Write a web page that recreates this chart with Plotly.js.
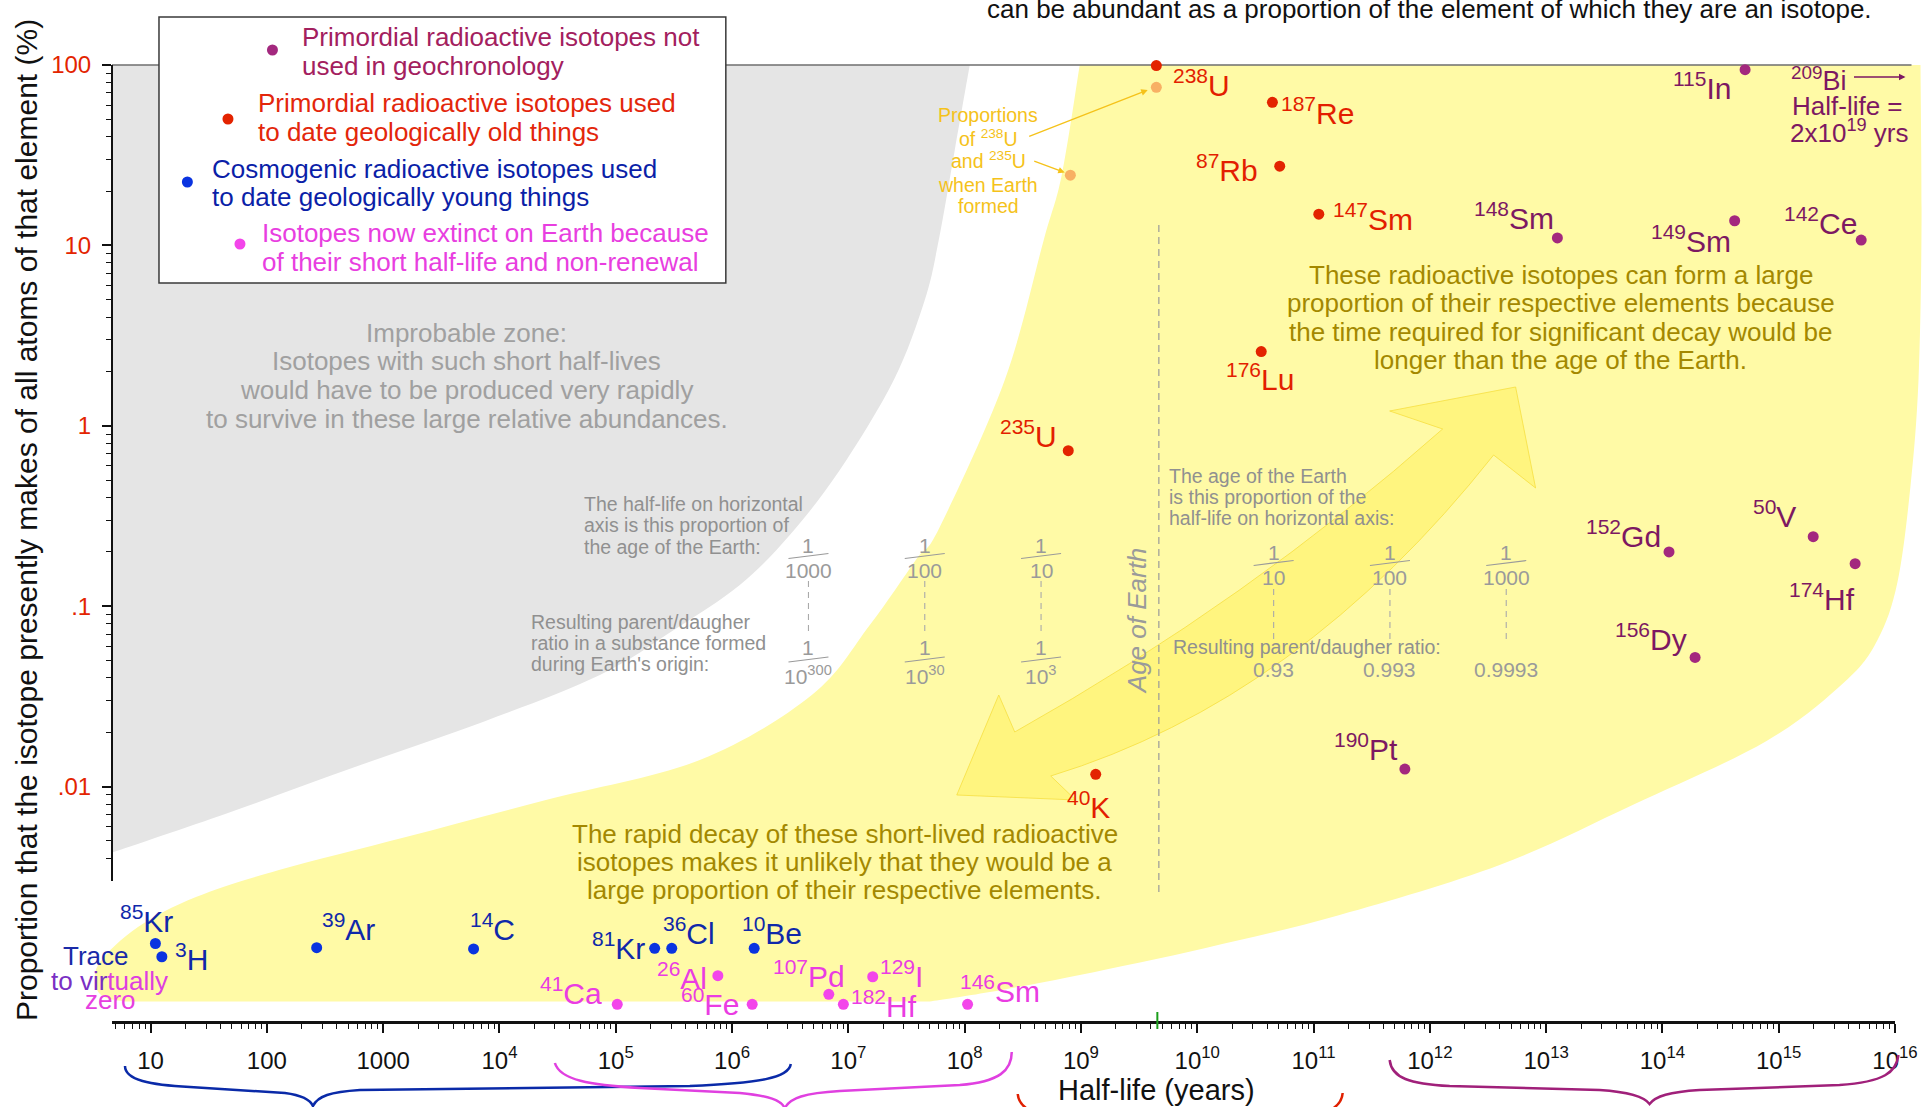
<!DOCTYPE html>
<html>
<head>
<meta charset="utf-8">
<script src="https://cdn.plot.ly/plotly-3.0.1.min.js"></script>
<style>
html,body{margin:0;padding:0;background:#ffffff;overflow:hidden;}
#chart{width:1923px;height:1107px;}
</style>
</head>
<body>
<div id="chart"></div>
<script>
// ---------------- DATA ----------------
const ageOfEarth = 4.54e9; // years

// Primordial radioactive isotopes not used in geochronology
const notUsedNames     = ['115In','148Sm','149Sm','142Ce','152Gd','156Dy','50V','174Hf','190Pt'];
const notUsedHalfLife  = [5.14e14, 1.25e13, 4.18e14, 5.12e15, 1.14e14, 1.91e14, 1.98e15, 4.54e15, 6.1e11];
const notUsedAbundance = [94.2, 11.0, 13.7, 10.7, 0.20, 0.052, 0.243, 0.172, 0.0125];

// Primordial radioactive isotopes used to date geologically old things
const oldNames     = ['238U','187Re','87Rb','147Sm','176Lu','235U','40K'];
const oldHalfLife  = [4.45e9, 4.43e10, 5.12e10, 1.11e11, 3.55e10, 7.78e8, 1.34e9];
const oldAbundance = [99.3, 62.1, 27.5, 14.9, 2.58, 0.728, 0.0117];

// Proportions of 238U and 235U when Earth formed
const initialNames     = ['238U','235U'];
const initialHalfLife  = [4.45e9, 8.11e8];
const initialAbundance = [75.2, 24.5];

// Cosmogenic radioactive isotopes (trace amounts)
const youngNames     = ['85Kr','3H','39Ar','14C','81Kr','36Cl','10Be'];
const youngHalfLife  = [11.0, 12.5, 268, 5990, 2.16e5, 3.03e5, 1.55e6];
const youngAbundance = [0.00135, 0.00114, 0.00128, 0.00126, 0.00127, 0.00127, 0.00127];

// Isotopes now extinct on Earth (virtually zero)
const extinctNames     = ['41Ca','26Al','60Fe','107Pd','182Hf','129I','146Sm'];
const extinctHalfLife  = [1.03e5, 7.55e5, 1.49e6, 6.79e6, 9.06e6, 1.62e7, 1.06e8];
const extinctAbundance = [0.000621, 0.000895, 0.000621, 0.000706, 0.000621, 0.000883, 0.000621];

// Tick labels
const xTickVals = [1e1,1e2,1e3,1e4,1e5,1e6,1e7,1e8,1e9,1e10,1e11,1e12,1e13,1e14,1e15,1e16];
const xTickText = ['10','100','1000','10<sup>4</sup>','10<sup>5</sup>','10<sup>6</sup>','10<sup>7</sup>','10<sup>8</sup>',
                   '10<sup>9</sup>','10<sup>10</sup>','10<sup>11</sup>','10<sup>12</sup>','10<sup>13</sup>','10<sup>14</sup>',
                   '10<sup>15</sup>','10<sup>16</sup>'];
const yTickVals = [0.01, 0.1, 1, 10, 100];
const yTickText = ['.01', '.1', '1', '10', '100'];

// Half-life as a fraction / multiple of the age of the Earth
const fractionFactors = [1/1000, 1/100, 1/10, 10, 100, 1000];
const leftDenoms   = ['1000', '100', '10'];
const lowerDenoms  = ['10<sup>300</sup>', '10<sup>30</sup>', '10<sup>3</sup>'];
const rightDenoms  = ['10', '100', '1000'];
const ratioValues  = ['0.93', '0.993', '0.9993'];

const legendLines = [
  ['Primordial radioactive isotopes not', 'used in geochronology'],
  ['Primordial radioactive isotopes used', 'to date geologically old things'],
  ['Cosmogenic radioactive isotopes used', 'to date geologically young things'],
  ['Isotopes now extinct on Earth because', 'of their short half-life and non-renewal']
];

// ---------------- STYLE / GEOMETRY ----------------
const W = 1923, H = 1107, L = 112, R = 1895.5, T = 65, B = 1021;
const XR = [0.6682, 16], YR = [-3.2993, 2];
const FONT = '"Liberation Sans", Arial, Helvetica, sans-serif';

const C = {
  red: '#e32300', redText: '#e31e00',
  purple: '#a3287e', purpleText: '#7d1862', legendPurple: '#a3205e',
  blue: '#0a33e0', blueText: '#0f28aa',
  magenta: '#f345ea', magentaText: '#ea3ce2',
  orange: '#f8b064', orangeText: '#f5c21a',
  gold: '#a38800', gray: '#a0a0a0', gray2: '#909090'
};

const labelPlace = { // [dx, dy (screen px, + = down), xanchor]
  '238U':[15,17.4,'left'], '187Re':[6.7,8.4,'left'], '87Rb':[-20,1.4,'right'], '147Sm':[12.3,3.1,'left'],
  '176Lu':[-1.6,25.7,'center'], '235U':[-9.6,-16.7,'right'], '40K':[-6.9,30.4,'center'],
  '115In':[-10.6,16,'right'], '148Sm':[-1.7,-22,'right'], '149Sm':[-1.2,18.4,'right'], '142Ce':[-1.7,-19.3,'right'],
  '152Gd':[-6.3,-17.7,'right'], '156Dy':[-5.7,-20.9,'right'], '50V':[-15.7,-22.8,'right'], '174Hf':[2.3,32.8,'right'],
  '190Pt':[-5.3,-21.9,'right'],
  '85Kr':[-8.5,-24.9,'center'], '3H':[11.1,0,'left'], '39Ar':[3.2,-20.3,'left'], '14C':[-5.1,-21.6,'left'],
  '81Kr':[-7.8,-2.6,'right'], '36Cl':[-11,-17.6,'left'], '10Be':[-14.3,-17.6,'left'],
  '41Ca':[-13.2,-13.6,'right'], '26Al':[-9,0,'right'], '60Fe':[-11.4,-1.9,'right'], '107Pd':[18.5,-20.3,'right'],
  '182Hf':[5.4,0,'left'], '129I':[5,-2.7,'left'], '146Sm':[-10,-15.3,'left']
};

// ---------------- helpers ----------------
const px = x => (x - L) / (R - L);
const py = y => (B - y) / (B - T);
const xPix = v => L + (Math.log10(v) - XR[0]) / (XR[1] - XR[0]) * (R - L);
const f5 = n => (+n).toFixed(5);
const P = p => f5(px(p[0])) + ',' + f5(py(p[1]));
const pth = (...parts) => parts.map(p => Array.isArray(p) ? P(p) : p).join(' ');
function smooth(pts) {
  let s = '';
  for (let i = 0; i < pts.length - 1; i++) {
    const p0 = pts[Math.max(i - 1, 0)], p1 = pts[i], p2 = pts[i + 1], p3 = pts[Math.min(i + 2, pts.length - 1)];
    const c1 = [p1[0] + (p2[0] - p0[0]) / 6, p1[1] + (p2[1] - p0[1]) / 6];
    const c2 = [p2[0] - (p3[0] - p1[0]) / 6, p2[1] - (p3[1] - p1[1]) / 6];
    s += ' C ' + P(c1) + ' ' + P(c2) + ' ' + P(p2);
  }
  return s;
}

const ann = [];
const shapes = [];
function Tx(text, x, y, size, color, o) {
  ann.push(Object.assign({xref:'paper', yref:'paper', x: px(x), y: py(y), text: text, showarrow: false,
    xanchor: 'center', yanchor: 'middle', font: {family: FONT, size: size, color: color}}, o || {}));
}
function lines(arr, x, y0, sp, size, color, o) { arr.forEach((s, i) => Tx(s, x, y0 + i * sp, size, color, o)); }
function arrowAnn(hx, hy, tx, ty, color, w) {
  ann.push({xref:'paper', yref:'paper', x: px(hx), y: py(hy), ax: tx - hx, ay: ty - hy, axref:'pixel', ayref:'pixel',
    text:'', showarrow:true, arrowhead:2, arrowsize:1, arrowwidth:w, arrowcolor:color, standoff:0, startstandoff:0});
}
function lineShape(x0, y0, x1, y1, color, w, dash, layer) {
  shapes.push({type:'line', xref:'paper', yref:'paper', x0:px(x0), y0:py(y0), x1:px(x1), y1:py(y1),
    line:{color:color, width:w, dash:dash || 'solid'}, layer: layer || 'above'});
}
function pathShape(path, fill, lineColor, lw, layer) {
  shapes.push({type:'path', xref:'paper', yref:'paper', path:path, fillcolor: fill || 'rgba(0,0,0,0)',
    line:{color: lineColor || 'rgba(0,0,0,0)', width: lw || 0}, layer: layer || 'below'});
}
function dotShape(x, y, color, r) {
  shapes.push({type:'circle', xref:'paper', yref:'paper', xsizemode:'pixel', ysizemode:'pixel',
    xanchor:px(x), yanchor:py(y), x0:-r, x1:r, y0:-r, y1:r, fillcolor:color, line:{width:0}, layer:'above'});
}

// ---------------- background regions ----------------
const grayEdge = [[970,65],[955,150],[939,240],[925,300],[894,380],[840,470],[790,535],[740,585],[674,630],
                  [600,675],[483,722],[355,767],[228,813],[111,853]];
pathShape('M ' + P([111,65]) + ' L ' + P(grayEdge[0]) + smooth(grayEdge) + ' Z', '#e5e5e5');

const yRight = [[1921,65],[1922,230],[1919,380],[1911,486],[1898,582],[1878,640],[1845,682],[1767,741],[1633,805],
                [1500,865],[1340,915],[1206,948],[1080,975],[990,992],[930,1001.5]];
const yLeft = [[125,1001.5],[104,997],[96,985],[100,962],[138,927],[196,897],[279,870],[406,837],[546,800],[700,760],
               [812,695],[870,625],[916,560],[940,527],[1005,380],[1044,240],[1062,175],[1080,65]];
pathShape('M ' + P([1080,65]) + ' L ' + P([1921,65]) + smooth(yRight) + ' L ' + P(yLeft[0]) + smooth(yLeft) + ' Z', '#fffaa6');

// big double-headed arrow
pathShape(pth('M',[957,795],'L',[999,695],'L',[1015,732],'Q',[1250,600],[1443,429],'L',[1390,411],'L',[1516,387],
  'L',[1536,488],'L',[1494,455],'Q',[1300,700],[1051,776],'L',[1076,800],'Z'),
  'rgba(255,240,95,0.55)', 'rgba(245,222,60,0.75)', 1);

// 100% line at the top
lineShape(112, 65, 1912, 65, '#6e6e6e', 1.5, 'solid', 'below');
// y axis line (only over the measurable range)
shapes.push({type:'line', xref:'paper', yref:'paper', x0:0, x1:0,
  y0:(Math.log10(0.003) - YR[0]) / (YR[1] - YR[0]), y1:1, line:{color:'#111', width:2}, layer:'above'});

// Age of the Earth marker line and green tick
const xAge = xPix(ageOfEarth);
lineShape(xAge + 1.5, 225, xAge + 1.5, 897, '#9a9a9a', 1.2, '7px,5px', 'below');
lineShape(xAge, 1012, xAge, 1029, '#1b9e1b', 2, 'solid', 'above');

// ---------------- legend box ----------------
shapes.push({type:'rect', xref:'paper', yref:'paper', x0:px(159), x1:px(726), y0:py(17), y1:py(283),
  fillcolor:'#ffffff', line:{color:'#3a3a3a', width:1.5}, layer:'above'});
dotShape(272.5, 50, C.purple, 5.5);
dotShape(228, 119, C.red, 5.5);
dotShape(187.4, 182, C.blue, 5.5);
dotShape(240, 244, C.magenta, 5.5);
lines(legendLines[0], 300, 36.5, 30, 26, C.legendPurple, {xanchor:'left'});
lines(legendLines[1], 256, 103, 29, 26, '#e3260b', {xanchor:'left'});
lines(legendLines[2], 210, 169, 28.5, 26, '#0b1fa8', {xanchor:'left'});
lines(legendLines[3], 260, 233, 29, 26, '#e83ee0', {xanchor:'left'});

// ---------------- braces below the axis ----------------
pathShape(pth('M',[125,1066],'C',[125,1080],[150,1085],[190,1087],'L',[285,1093],'C',[300,1095],[310,1099],[313,1106],
  'C',[318,1096],[330,1092],[360,1090],'L',[690,1086],'C',[760,1083],[789,1078],[791,1064]), null, '#0a2aa8', 2.5, 'above');
pathShape(pth('M',[555,1063],'C',[560,1080],[590,1085],[640,1088],'L',[740,1093],'C',[770,1096],[781,1100],[785,1108],
  'C',[790,1098],[805,1093],[840,1091],'L',[960,1085],'C',[1000,1082],[1012,1070],[1012,1052]), null, '#e040e0', 2.5, 'above');
pathShape(pth('M',[1018,1094],'C',[1019,1106],[1030,1115],[1060,1118],'L',[1300,1118],'C',[1330,1115],[1342,1106],[1343,1093]),
  null, '#e02000', 2.5, 'above');
pathShape(pth('M',[1390,1060],'C',[1392,1078],[1410,1084],[1450,1086],'L',[1600,1090],'C',[1630,1092],[1645,1097],[1650,1104],
  'C',[1656,1096],[1670,1092],[1700,1090],'L',[1840,1085],'C',[1885,1082],[1897,1072],[1899,1055]), null, '#a0207a', 2.5, 'above');

// ---------------- fractions of the age of the Earth ----------------
const G = '#9a9a9a';
function bar(cx, y) { lineShape(cx - 20, y + 2.5, cx + 20, y - 2.5, G, 1.2, 'solid', 'above'); }
fractionFactors.forEach((f, i) => {
  const cx = xPix(ageOfEarth * f);
  if (i < 3) {
    Tx('1', cx, 545, 21, G); bar(cx, 556); Tx(leftDenoms[i], cx, 570, 21, G);
    lineShape(cx, 581, cx, 633, '#aaaaaa', 1.1, '6px,5px', 'above');
    Tx('1', cx, 648, 21, G); bar(cx, 659.5); Tx(lowerDenoms[i], cx, 675, 21, G);
  } else {
    Tx('1', cx, 552.5, 21, G); bar(cx, 563); Tx(rightDenoms[i - 3], cx, 577, 21, G);
    lineShape(cx, 589, cx, 640, '#aaaaaa', 1.1, '6px,5px', 'above');
    Tx(ratioValues[i - 3], cx, 669.7, 21, G);
  }
});

// ---------------- explanatory texts ----------------
Tx('can be abundant as a proportion of the element of which they are an isotope.', 1430, 9, 26, '#111');
Tx('Proportion that the isotope presently makes of all atoms of that element (%)', 26, 520, 30, '#111', {textangle:-90});
Tx('Half-life (years)', 1157, 1090, 29, '#111');

lines(['Improbable zone:', 'Isotopes with such short half-lives', 'would have to be produced very rapidly',
       'to survive in these large relative abundances.'], 467, 332.5, 28.7, 26, C.gray);
lines(['These radioactive isotopes can form a large', 'proportion of their respective elements because',
       'the time required for significant decay would be', 'longer than the age of the Earth.'], 1561, 275, 28.4, 26, C.gold);
lines(['The rapid decay of these short-lived radioactive', 'isotopes makes it unlikely that they would be a',
       'large proportion of their respective elements.'], 845, 834, 27.8, 26, C.gold);
lines(['The half-life on horizontal', 'axis is this proportion of', 'the age of the Earth:'], 582, 503.5, 21.7, 19.5, C.gray2, {xanchor:'left'});
lines(['Resulting parent/daugher', 'ratio in a substance formed', "during Earth's origin:"], 529, 622, 20.9, 19.5, C.gray2, {xanchor:'left'});
lines(['The age of the Earth', 'is this proportion of the', 'half-life on horizontal axis:'], 1167, 476, 21, 19.5, C.gray2, {xanchor:'left'});
Tx('Resulting parent/daugher ratio:', 1171.4, 646.5, 19.5, C.gray2, {xanchor:'left'});
Tx('<i>Age of Earth</i>', 1137, 620.5, 26, '#9a9a9a', {textangle:-90});

Tx('Proportions', 988.5, 115, 19.5, C.orangeText);
Tx('of <sup>238</sup>U', 988.5, 138.5, 19.5, C.orangeText);
Tx('and <sup>235</sup>U', 988.5, 160, 19.5, C.orangeText);
Tx('when Earth', 988.5, 185, 19.5, C.orangeText);
Tx('formed', 988.5, 206, 19.5, C.orangeText);
arrowAnn(1148, 90, 1028, 137, C.orangeText, 1.3);
arrowAnn(1065, 172.5, 1033, 160.5, C.orangeText, 1.3);

Tx('<sup>209</sup>Bi', 1789, 79, 27, C.purpleText, {xanchor:'left'});
arrowAnn(1906, 77, 1853, 77, C.purpleText, 1.3);
Tx('Half-life =', 1848, 106, 26, C.purpleText);
Tx('2x10<sup>19</sup> yrs', 1850, 131, 26, C.purpleText);

Tx('Trace', 61, 956, 26, '#1a2aa8', {xanchor:'left'});
Tx('<span style="color:#7a2fc4">to vir</span><span style="color:#dd3fe0">tually</span>', 49, 981, 26, '#dd3fe0', {xanchor:'left'});
Tx('zero', 83, 999.5, 26, '#e640e0', {xanchor:'left'});

// ---------------- isotope labels ----------------
function isoLabel(name) { const m = name.match(/^(\d+)(.+)$/); return '<sup>' + m[1] + '</sup>' + m[2]; }
function addLabels(names, hl, ab, color) {
  names.forEach((n, i) => {
    const p = labelPlace[n];
    ann.push({xref:'x', yref:'y', x: Math.log10(hl[i]), y: Math.log10(ab[i]), text: isoLabel(n), showarrow:false,
      xanchor: p[2], yanchor:'middle', xshift: p[0], yshift: -p[1], font:{family:FONT, size:30, color:color}});
  });
}
addLabels(oldNames, oldHalfLife, oldAbundance, C.redText);
addLabels(notUsedNames, notUsedHalfLife, notUsedAbundance, C.purpleText);
addLabels(youngNames, youngHalfLife, youngAbundance, C.blueText);
addLabels(extinctNames, extinctHalfLife, extinctAbundance, C.magentaText);

// ---------------- traces ----------------
function series(name, x, y, text, color) {
  return {type:'scatter', mode:'markers', name:name, x:x, y:y, text:text, cliponaxis:false, hoverinfo:'text+x+y',
    marker:{color:color, size:11, line:{width:0}}};
}
const data = [
  series('Proportions of 238U and 235U when Earth formed', initialHalfLife, initialAbundance, initialNames, C.orange),
  series('Primordial radioactive isotopes used to date geologically old things', oldHalfLife, oldAbundance, oldNames, C.red),
  series('Primordial radioactive isotopes not used in geochronology', notUsedHalfLife, notUsedAbundance, notUsedNames, C.purple),
  series('Cosmogenic radioactive isotopes used to date geologically young things', youngHalfLife, youngAbundance, youngNames, C.blue),
  series('Isotopes now extinct on Earth because of their short half-life and non-renewal', extinctHalfLife, extinctAbundance, extinctNames, C.magenta)
];

// minor tick positions (2..9 within each decade)
const xMinor = [], yMinor = [];
for (let d = 0; d <= 15; d++) for (let m = 2; m <= 9; m++) { const v = m * Math.pow(10, d); if (Math.log10(v) >= XR[0] && Math.log10(v) <= XR[1]) xMinor.push(v); }
for (let d = -3; d <= 1; d++) for (let m = 2; m <= 9; m++) { const v = m * Math.pow(10, d); if (v >= 0.004 && v < 100) yMinor.push(v); }

const layout = {
  width: W, height: H,
  margin: {l: L, r: W - R, t: T, b: H - B, pad: 0},
  paper_bgcolor: '#ffffff', plot_bgcolor: 'rgba(0,0,0,0)',
  showlegend: false,
  font: {family: FONT, color: '#111'},
  xaxis: {type:'log', range: XR, autorange:false, showgrid:false, zeroline:false,
    showline:true, linecolor:'#111', linewidth:2.5,
    ticks:'outside', ticklen:9, tickwidth:1.5, tickcolor:'#111',
    tickmode:'array', tickvals: xTickVals, ticktext: xTickText,
    tickfont:{family: FONT, size: 24, color:'#111'}, ticklabelstandoff: 7,
    minor:{tickmode:'array', tickvals: xMinor, ticks:'outside', ticklen:5, tickwidth:1.2, tickcolor:'#111', showgrid:false}},
  yaxis: {type:'log', range: YR, autorange:false, showgrid:false, zeroline:false, showline:false,
    ticks:'outside', ticklen:9, tickwidth:1.5, tickcolor:'#111',
    tickmode:'array', tickvals: yTickVals, ticktext: yTickText,
    tickfont:{family: FONT, size: 24, color:'#e32400'}, ticklabelstandoff: 6,
    minor:{tickmode:'array', tickvals: yMinor, ticks:'outside', ticklen:5, tickwidth:1.2, tickcolor:'#111', showgrid:false}},
  shapes: shapes,
  annotations: ann
};

Plotly.newPlot('chart', data, layout, {displayModeBar:false, responsive:false});
</script>
</body>
</html>
